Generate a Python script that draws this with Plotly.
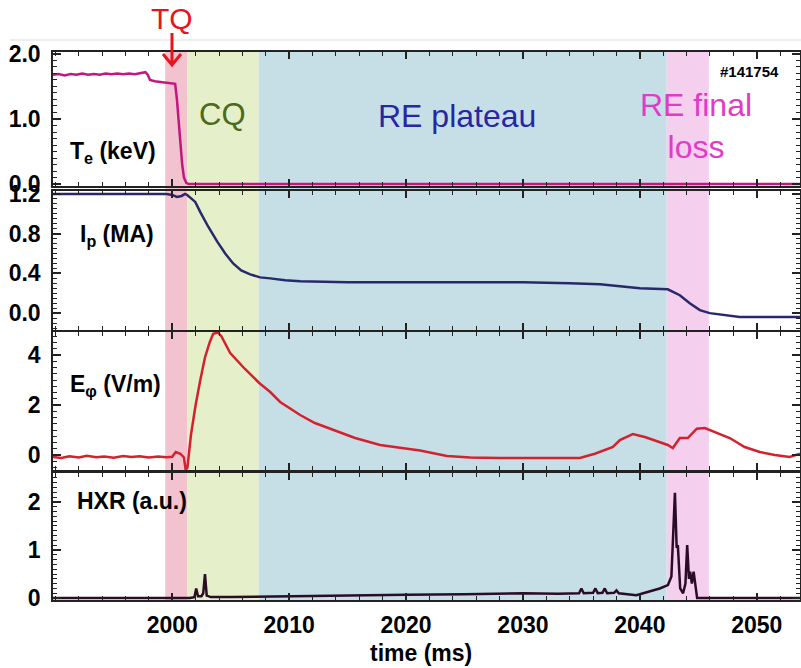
import plotly.graph_objects as go

# ---------------- data ----------------
te_t = [1989.8, 1990.3, 1990.8, 1991.3, 1991.8, 1992.3, 1992.8, 1993.3, 1993.8, 1994.3,
        1994.8, 1995.3, 1995.8, 1996.3, 1996.8, 1997.3, 1997.7, 1997.9, 1998.1, 1998.5,
        1999.0, 1999.5, 2000.0, 2000.25, 2000.4, 2000.55, 2000.7, 2000.85, 2001.0, 2001.2,
        2001.4, 2005.0, 2020.0, 2040.0, 2053.7]
te_v = [1.68, 1.69, 1.67, 1.69, 1.68, 1.70, 1.68, 1.69, 1.68, 1.70,
        1.69, 1.70, 1.69, 1.70, 1.69, 1.71, 1.72, 1.68, 1.60, 1.58,
        1.57, 1.56, 1.55, 1.54, 1.30, 0.95, 0.60, 0.30, 0.10, 0.02,
        0.0, 0.0, 0.0, 0.0, 0.0]

ip_t = [1989.8, 1995.0, 1999.5, 2000.0, 2000.4, 2000.8, 2001.1, 2001.28, 2001.97, 2002.39,
        2003.08, 2003.85, 2004.53, 2005.21, 2005.9, 2006.67, 2007.52, 2008.38, 2009.66, 2010.94,
        2015.0, 2020.0, 2025.0, 2030.0, 2034.0, 2036.6, 2038.3, 2040.0, 2042.39, 2043.42,
        2044.27, 2045.13, 2045.98, 2047.26, 2048.55, 2053.7]
ip_v = [1.20, 1.20, 1.20, 1.19, 1.17, 1.18, 1.20, 1.19, 1.12, 1.02,
        0.87, 0.72, 0.60, 0.50, 0.43, 0.39, 0.36, 0.35, 0.33, 0.32,
        0.31, 0.31, 0.31, 0.31, 0.30, 0.29, 0.27, 0.25, 0.24, 0.18,
        0.10, 0.03, 0.0, -0.02, -0.04, -0.04]

e_t = [1989.8, 1990.5, 1991.2, 1992.0, 1992.7, 1993.5, 1994.2, 1995.0, 1995.8, 1996.5,
       1997.2, 1998.0, 1998.8, 1999.5, 2000.0, 2000.3, 2000.7, 2001.0, 2001.15, 2001.3,
       2001.6, 2002.0, 2002.4, 2002.8, 2003.2, 2003.5, 2003.9, 2004.2, 2004.96, 2006.2,
       2007.44, 2008.38, 2009.23, 2010.94, 2012.2, 2013.76, 2015.64, 2017.78, 2019.5, 2021.2,
       2023.5, 2025.5, 2028.0, 2031.45, 2034.87, 2036.15, 2037.0, 2037.7, 2038.29, 2039.4,
       2040.43, 2041.71, 2042.39, 2042.82, 2043.42, 2044.1, 2044.87, 2045.56, 2046.41, 2047.69,
       2048.97, 2050.26, 2051.54, 2052.82, 2053.7]
e_v = [-0.08, -0.12, -0.05, -0.10, -0.03, -0.09, -0.06, -0.11, -0.04, -0.08,
       -0.05, -0.10, -0.06, -0.09, -0.07, 0.12, 0.05, -0.10, -0.60, -0.50,
       0.80, 2.00, 3.00, 3.90, 4.50, 4.85, 4.90, 4.75, 4.08, 3.45,
       2.88, 2.52, 2.12, 1.60, 1.28, 1.00, 0.68, 0.40, 0.28, 0.18,
       -0.04, -0.10, -0.12, -0.12, -0.12, 0.05, 0.20, 0.32, 0.60, 0.84,
       0.72, 0.52, 0.40, 0.28, 0.68, 0.68, 1.05, 1.08, 0.92, 0.68,
       0.32, 0.12, 0.0, -0.08, 0.05]

hxr_t = [1989.8, 2001.5, 2001.9, 2002.05, 2002.2, 2002.5, 2002.65, 2002.8, 2002.95, 2003.3,
         2005.0, 2010.0, 2015.0, 2020.0, 2025.0, 2030.0, 2033.0, 2034.8, 2035.0, 2035.2,
         2036.0, 2036.2, 2036.4, 2036.8, 2037.0, 2037.2, 2037.8, 2038.0, 2038.2, 2039.7,
         2041.7, 2042.4, 2042.7, 2042.9, 2043.0, 2043.15, 2043.25, 2043.45, 2043.7, 2043.9,
         2044.05, 2044.2, 2044.3, 2044.45, 2044.6, 2044.9, 2053.7]
hxr_v = [0.0, 0.0, 0.02, 0.20, 0.04, 0.04, 0.10, 0.50, 0.05, 0.02,
         0.02, 0.04, 0.06, 0.07, 0.08, 0.10, 0.09, 0.10, 0.20, 0.10,
         0.11, 0.20, 0.10, 0.11, 0.20, 0.10, 0.11, 0.16, 0.10, 0.06,
         0.20, 0.27, 0.45, 1.60, 2.19, 1.04, 1.10, 0.20, 0.10, 0.30,
         1.10, 0.40, 0.55, 0.30, 0.55, 0.0, 0.0]

phases = ["TQ", "CQ", "RE plateau", "RE final loss"]
phase_start = [1999.4, 2001.3, 2007.4, 2042.3]
phase_end = [2001.3, 2007.4, 2042.3, 2045.9]
phase_fill = ["#f2c3cf", "#e5efca", "#c6dfe6", "#f5cfee"]

xtick_vals = [2000, 2010, 2020, 2030, 2040, 2050]
panel_yticks = [[0.0, 1.0, 2.0], [0.0, 0.4, 0.8, 1.2], [0, 2, 4], [0, 1, 2]]
panel_ytext = [["0.0", "1.0", "2.0"], ["0.0", "0.4", "0.8", "1.2"], ["0", "2", "4"], ["0", "1", "2"]]
panel_labels = ["T<sub>e</sub> (keV)", "I<sub>p</sub> (MA)", "E<sub>φ</sub> (V/m)", "HXR (a.u.)"]

# ---------------- layout helpers ----------------
W, H = 801, 668
def px(x):
    return x / W
def py(y):
    return 1 - y / H

XR = [1989.8, 2053.7]
xdom = [px(53), px(800)]
ydoms = [[py(186), py(52)], [py(330), py(191)], [py(470), py(332)], [py(600), py(473)]]
yranges = [[-0.03, 2.03], [-0.17, 1.23], [-0.6, 4.92], [-0.04, 2.6]]
ydticks = [0.1, 0.05, 0.25, 0.1]

FONT = "Liberation Sans, Arial, sans-serif"

fig = go.Figure()
series = [(te_t, te_v, "#c2187e"), (ip_t, ip_v, "#28296b"), (e_t, e_v, "#d3222e"), (hxr_t, hxr_v, "#2a0c26")]
for i, (t, v, c) in enumerate(series):
    sfx = "" if i == 0 else str(i + 1)
    fig.add_trace(go.Scatter(x=t, y=v, mode="lines", line=dict(color=c, width=2.5),
                             xaxis="x" + sfx, yaxis="y" + sfx, showlegend=False, hoverinfo="skip"))

layout = dict(width=W, height=H, margin=dict(l=0, r=0, t=0, b=0, autoexpand=False),
              paper_bgcolor="white", plot_bgcolor="rgba(0,0,0,0)", showlegend=False,
              font=dict(family=FONT, color="black"))

for i in range(4):
    sfx = "" if i == 0 else str(i + 1)
    layout["xaxis" + sfx] = dict(
        domain=xdom, range=XR, anchor="y" + sfx, showline=True, linecolor="#222", linewidth=1.5,
        mirror="ticks", ticks="inside", ticklen=7, tickwidth=1.5, tickcolor="#222",
        tickvals=xtick_vals, ticktext=["<b>%d</b>" % v for v in xtick_vals],
        showticklabels=(i == 3), tickfont=dict(size=23, family=FONT, color="black"),
        ticklabelstandoff=4,
        minor=dict(ticks="inside", ticklen=4, dtick=2, tick0=2000, tickcolor="#222", tickwidth=1),
        showgrid=False, zeroline=False)
    if i > 0:
        layout["xaxis" + sfx]["matches"] = "x"
    layout["yaxis" + sfx] = dict(
        domain=ydoms[i], range=yranges[i], anchor="x" + sfx, showline=True, linecolor="#222",
        linewidth=1.5, mirror="ticks", ticks="inside", ticklen=8, tickwidth=1.5, tickcolor="#222",
        tickvals=panel_yticks[i], ticktext=["<b>%s</b>" % s for s in panel_ytext[i]],
        tickfont=dict(size=23, family=FONT, color="black"), ticklabelstandoff=6,
        minor=dict(ticks="inside", ticklen=4, dtick=ydticks[i], tickcolor="#222", tickwidth=1),
        showgrid=False, zeroline=False)

shapes = []
for s, e, c in zip(phase_start, phase_end, phase_fill):
    shapes.append(dict(type="rect", xref="x", yref="paper", x0=s, x1=e, y0=py(600), y1=py(52),
                       fillcolor=c, line=dict(width=0), layer="below"))
# thin top border line of the original picture
shapes.append(dict(type="line", xref="paper", yref="paper", x0=px(10), x1=1, y0=py(40), y1=py(40),
                   line=dict(color="#dddddd", width=1)))
# TQ arrow
ax = 172
shapes.append(dict(type="path", xref="paper", yref="paper",
                   path="M %f,%f L %f,%f M %f,%f L %f,%f L %f,%f" % (
                       px(ax), py(33), px(ax), py(65),
                       px(ax - 9), py(54), px(ax), py(65), px(ax + 9), py(54)),
                   line=dict(color="#e8141c", width=3)))
layout["shapes"] = shapes

ann = []
def text(x, y, s, size, color, bold=False, xa="center", ya="middle"):
    ann.append(dict(x=px(x), y=py(y), xref="paper", yref="paper", text=("<b>%s</b>" % s) if bold else s,
                    showarrow=False, xanchor=xa, yanchor=ya,
                    font=dict(size=size, color=color, family=FONT)))

text(172, 18, "TQ", 30, "#e8141c")
text(222, 115, "CQ", 31, "#4c6a1c")
text(457, 116, "RE plateau", 32, "#2626a6")
text(638, 126, "RE final<br>loss", 32, "#e03cc6", xa="left")
text(749, 72, "#141754", 15, "black", bold=True)
label_pos = [(68, 152), (78, 235), (68, 386), (75, 501)]
for (lx, ly), lab in zip(label_pos, panel_labels):
    text(lx, ly, lab, 23, "black", bold=True, xa="left")
text(421, 653, "time (ms)", 23, "black", bold=True)
layout["annotations"] = ann

fig.update_layout(**layout)
fig.write_html("out.html", config={"displayModeBar": False},
               post_script="document.body.style.margin='0';document.body.style.overflow='hidden';")
